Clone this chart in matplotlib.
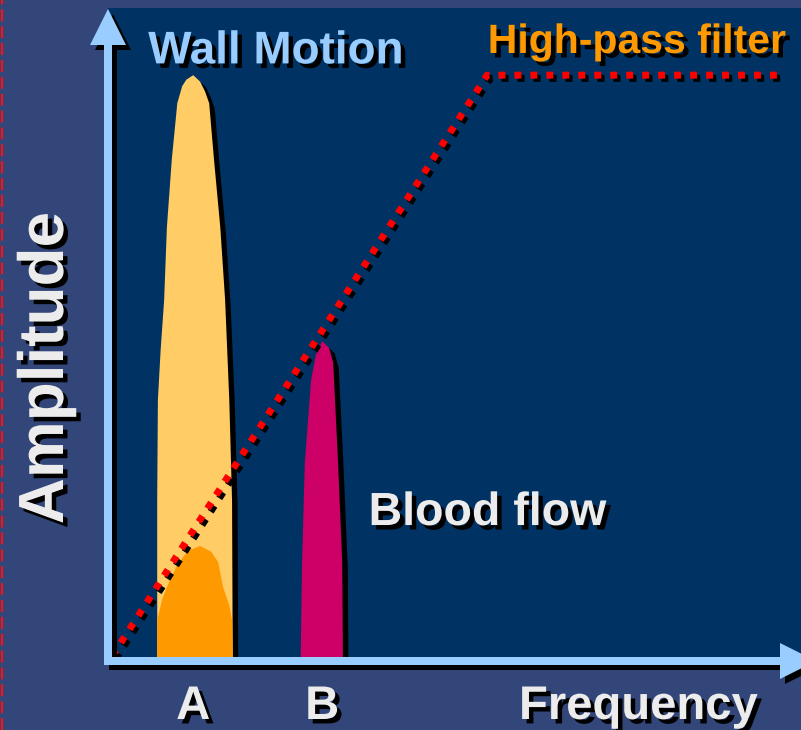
import matplotlib
matplotlib.use("Agg")
import matplotlib.pyplot as plt
import matplotlib.patheffects as pe
from matplotlib.patches import Polygon

plt.rcParams['font.family'] = ['Liberation Sans', 'DejaVu Sans']

# Peak outlines (frequency, amplitude)
wall_freq = [7.1, 7.1, 7.2, 7.6, 8.1, 8.5, 9.2, 10.0, 10.7, 11.3, 12.3, 13.3, 14.0, 14.6,
             15.3, 16.2, 16.9, 17.5, 17.9, 18.0]
wall_amp = [0, 24.5, 39.9, 47.6, 55.2, 66.4, 76.7, 85.4, 88.0, 89.0, 89.7, 88.7, 87.2, 85.4,
            76.7, 66.4, 55.2, 39.9, 24.5, 0]

wall_core_freq = [7.1, 7.1, 7.8, 8.5, 10.0, 11.5, 13.3, 14.9, 15.9, 16.6, 17.5, 17.9, 18.0]
wall_core_amp = [0, 6.1, 9.2, 11.2, 14.6, 16.7, 17.5, 16.6, 15.0, 11.2, 8.4, 6.1, 0]

blood_freq = [27.8, 28.0, 28.4, 29.3, 30.0, 30.9, 31.9, 32.5, 33.2, 33.8, 33.9]
blood_amp = [0, 14.9, 30.2, 42.9, 46.8, 48.9, 47.9, 45.6, 30.2, 14.9, 0]

# High-pass filter response
filter_freq = [0.6, 54.7, 97.0]
filter_amp = [0.6, 89.7, 89.7]

tick_pos = [12.3, 30.9]
tick_labels = ['A', 'B']

bg = '#33467a'
navy = '#003263'
light_blue = '#99ccff'
pale = '#ececec'

fig = plt.figure(figsize=(8.01, 7.30), dpi=100, facecolor=bg)

# background layer in pixel coords: red dashed guide at the left edge
back = fig.add_axes([0, 0, 1, 1])
back.set_xlim(0, 801)
back.set_ylim(730, 0)
back.axis('off')
back.axvline(2, color='#ff1010', lw=1.5, linestyle=(0, (5.7, 2.4)))

# chart area
ax = fig.add_axes([108 / 801, 70 / 730, 693 / 801, 652 / 730])
ax.set_facecolor(navy)
ax.set_xlim(0, 100)
ax.set_ylim(0, 100)
for s in ax.spines.values():
    s.set_visible(False)
ax.set_yticks([])

shadow = [pe.SimplePatchShadow(offset=(4, -4), shadow_rgbFace='black', alpha=1), pe.Normal()]
txt_shadow = [pe.SimplePatchShadow(offset=(3.2, -3.2), shadow_rgbFace='black', alpha=1), pe.Normal()]

ax.fill(wall_freq, wall_amp, color='#ffcc66', lw=0, path_effects=shadow, zorder=2)
ax.fill(wall_core_freq, wall_core_amp, color='#ff9900', lw=0, zorder=3)
ax.fill(blood_freq, blood_amp, color='#cc0066', lw=0, path_effects=shadow, zorder=2)

ax.plot(filter_freq, filter_amp, color='red', lw=5, linestyle=(0, (1, 1.3)),
        dash_capstyle='butt', zorder=4,
        path_effects=[pe.SimpleLineShadow(offset=(2.3, -2.3), shadow_color='black', alpha=1),
                      pe.Normal()])

ax.set_xticks(tick_pos, tick_labels)
ax.tick_params(axis='x', length=0, pad=18, labelsize=34, labelcolor=pale)
for lab in ax.get_xticklabels():
    lab.set_fontweight('bold')
    lab.set_path_effects(txt_shadow)

ax.set_xlabel('Frequency', fontsize=34, fontweight='bold', color=pale,
              ha='left', va='baseline', path_effects=txt_shadow)
ax.xaxis.set_label_coords((519 - 108) / 693, (660 - 719) / 652)
ax.set_ylabel('Amplitude', fontsize=46, fontweight='bold', color=pale,
              va='baseline', path_effects=txt_shadow)
ax.yaxis.set_label_coords((63 - 108) / 693, (660 - 368) / 652)

ax.text(5.8, 91.5, 'Wall Motion', fontsize=33, fontweight='bold', color=light_blue,
        ha='left', va='baseline', path_effects=txt_shadow, clip_on=False)
ax.text(54.8, 93.1, 'High-pass filter', fontsize=29.5, fontweight='bold', color='#ff9900',
        ha='left', va='baseline', path_effects=txt_shadow, clip_on=False)
ax.text(37.6, 20.7, 'Blood flow', fontsize=33.5, fontweight='bold', color=pale,
        ha='left', va='baseline', path_effects=txt_shadow)

# axis arrows on top, in pixel coords
top = fig.add_axes([0, 0, 1, 1])
top.set_xlim(0, 801)
top.set_ylim(730, 0)
top.axis('off')
top.patch.set_visible(False)
arrows = [(108, 9), (126, 45), (112, 45), (112, 657), (780, 657), (780, 643), (816, 661),
          (780, 679), (780, 665), (104, 665), (104, 45), (90, 45)]
top.add_patch(Polygon(arrows, closed=True, color=light_blue, lw=0, clip_on=False,
                      path_effects=[pe.SimplePatchShadow(offset=(3.6, -3.6), shadow_rgbFace='black', alpha=1),
                                    pe.Normal()]))

fig.savefig('out.png', dpi=100, facecolor=bg)
